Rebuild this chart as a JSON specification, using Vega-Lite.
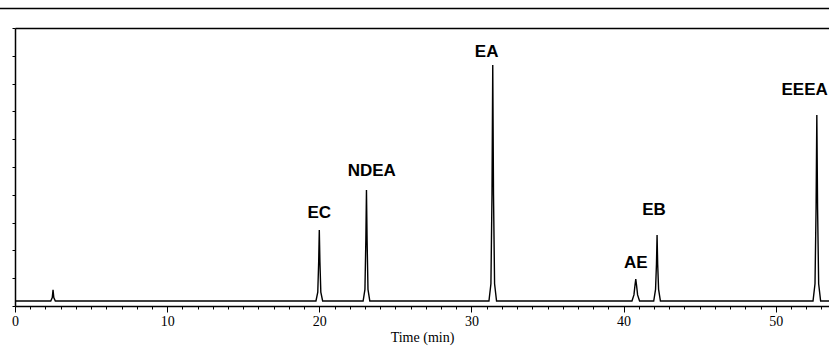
{
  "$schema": "https://vega.github.io/schema/vega-lite/v6.json",
  "width": 814,
  "height": 278,
  "autosize": "none",
  "padding": {"left": 15, "top": 28, "right": 0, "bottom": 46},
  "background": "white",
  "config": {
    "view": {"stroke": null},
    "axis": {"domainColor": "black", "tickColor": "black", "grid": false}
  },
  "datasets": {
    "signal": [
      {"t": 0, "s": 1.8},
      {"t": 2.35, "s": 1.8}, {"t": 2.45, "s": 3.0}, {"t": 2.5, "s": 5.8}, {"t": 2.55, "s": 3.0}, {"t": 2.65, "s": 1.8},
      {"t": 19.78, "s": 1.8}, {"t": 19.9, "s": 5}, {"t": 19.96, "s": 16}, {"t": 20.0, "s": 27.3}, {"t": 20.04, "s": 16}, {"t": 20.1, "s": 5}, {"t": 20.22, "s": 1.8},
      {"t": 22.88, "s": 1.8}, {"t": 23.0, "s": 6}, {"t": 23.06, "s": 24}, {"t": 23.1, "s": 41.7}, {"t": 23.14, "s": 24}, {"t": 23.2, "s": 6}, {"t": 23.32, "s": 1.8},
      {"t": 31.15, "s": 1.8}, {"t": 31.28, "s": 8}, {"t": 31.35, "s": 40}, {"t": 31.4, "s": 86.7}, {"t": 31.45, "s": 40}, {"t": 31.52, "s": 8}, {"t": 31.65, "s": 1.8},
      {"t": 40.55, "s": 1.8}, {"t": 40.68, "s": 4}, {"t": 40.75, "s": 7.5}, {"t": 40.8, "s": 9.7}, {"t": 40.85, "s": 7.5}, {"t": 40.92, "s": 4}, {"t": 41.05, "s": 1.8},
      {"t": 41.98, "s": 1.8}, {"t": 42.1, "s": 6}, {"t": 42.16, "s": 15}, {"t": 42.2, "s": 25.5}, {"t": 42.24, "s": 15}, {"t": 42.3, "s": 6}, {"t": 42.42, "s": 1.8},
      {"t": 52.45, "s": 1.8}, {"t": 52.58, "s": 8}, {"t": 52.65, "s": 35}, {"t": 52.7, "s": 68.7}, {"t": 52.75, "s": 35}, {"t": 52.82, "s": 8}, {"t": 52.95, "s": 1.8},
      {"t": 53.5, "s": 1.8}
    ],
    "peaks": [
      {"name": "EC", "lt": 20.0, "ls": 33.5},
      {"name": "NDEA", "lt": 23.45, "ls": 48.6},
      {"name": "EA", "lt": 31.0, "ls": 91.4},
      {"name": "AE", "lt": 40.8, "ls": 15.3},
      {"name": "EB", "lt": 42.0, "ls": 34.5},
      {"name": "EEEA", "lt": 51.9, "ls": 77.7}
    ],
    "frame": [
      {"t0": -1, "t1": 53.5, "level": 107}
    ]
  },
  "resolve": {"axis": {"x": "independent"}},
  "layer": [
    {
      "data": {"name": "signal"},
      "mark": {"type": "line", "color": "black", "strokeWidth": 1.4, "interpolate": "linear"},
      "encoding": {
        "x": {
          "field": "t", "type": "quantitative",
          "scale": {"domain": [0, 53.5], "nice": false, "zero": false},
          "axis": {
            "title": "Time (min)",
            "titleFont": "Liberation Serif", "titleFontSize": 14, "titleFontWeight": "normal",
            "titleColor": "black", "titlePadding": 2,
            "values": [0,1,2,3,4,5,6,7,8,9,10,11,12,13,14,15,16,17,18,19,20,21,22,23,24,25,26,27,28,29,30,31,32,33,34,35,36,37,38,39,40,41,42,43,44,45,46,47,48,49,50,51,52,53],
            "labelExpr": "datum.value % 10 === 0 ? datum.label : ''",
            "labelFont": "Liberation Serif", "labelFontSize": 14, "labelColor": "black",
            "labelPadding": 2, "labelFlush": false,
            "tickSize": {"condition": {"test": "datum.value % 10 === 0", "value": 6}, "value": 3},
            "domainWidth": 1.5, "tickWidth": 1
          }
        },
        "y": {
          "field": "s", "type": "quantitative",
          "scale": {"domain": [0, 100], "nice": false},
          "axis": {"title": null, "labels": false, "tickCount": 10, "tickSize": 3, "domainWidth": 1.5}
        }
      }
    },
    {
      "data": {"name": "peaks"},
      "mark": {"type": "text", "font": "Liberation Sans", "fontWeight": "bold", "fontSize": 17, "color": "black", "baseline": "middle", "align": "center"},
      "encoding": {
        "x": {"field": "lt", "type": "quantitative", "axis": null},
        "y": {"field": "ls", "type": "quantitative"},
        "text": {"field": "name"}
      }
    },
    {
      "data": {"name": "frame"},
      "mark": {"type": "rule", "color": "black", "strokeWidth": 1.5, "clip": false},
      "encoding": {
        "x": {"field": "t0", "type": "quantitative",
              "axis": {"orient": "top", "title": null, "labels": false, "ticks": false, "domainWidth": 1.5}},
        "x2": {"field": "t1"},
        "y": {"field": "level", "type": "quantitative"}
      }
    }
  ]
}
